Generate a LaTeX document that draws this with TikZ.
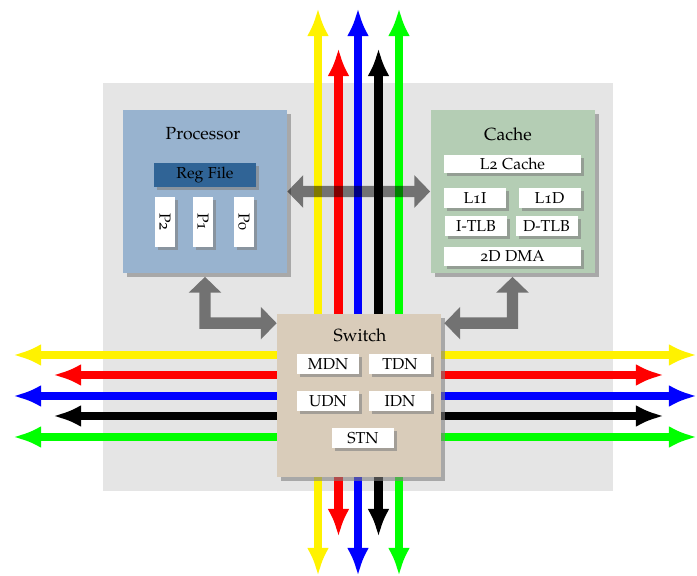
\documentclass[tikz,border=0pt]{standalone}
\usepackage[T1]{fontenc}
\usepackage[osf]{mathpazo}
\usetikzlibrary{arrows.meta, shadows}
\definecolor{procblue}{RGB}{152,179,207}
\definecolor{regblue}{RGB}{48,100,150}
\definecolor{cachegreen}{RGB}{180,205,180}
\definecolor{switchtan}{RGB}{217,204,186}
\definecolor{bggray}{RGB}{229,229,229}
\tikzset{>=latex}
\tikzset{
  tilebox/.style={fill=#1, minimum width=3.28cm, minimum height=3.26cm, inner sep=0pt,
    drop shadow={shadow xshift=0.08cm, shadow yshift=-0.08cm, opacity=0.6}},
  subbox/.style={fill=white, minimum width=1.24cm, minimum height=0.4cm, inner sep=0pt, font=\small,
    drop shadow={shadow xshift=0.06cm, shadow yshift=-0.06cm, opacity=0.6}},
  netarrow/.style={line width=4.8pt, {Latex[length=16pt,width=12.5pt]}-{Latex[length=16pt,width=12.5pt]}},
  linkarrow/.style={black, line width=6.5pt, line join=miter,
    {Triangle[length=9pt,width=18pt]}-{Triangle[length=9pt,width=18pt]}}
}
\begin{document}
\begin{tikzpicture}
\useasboundingbox (0,0) rectangle (13.94,11.52);
\fill[bggray] (2.06,1.70) rectangle (12.26,9.86);

% vertical networks
\draw[netarrow, yellow] (6.36,0) -- (6.36,11.36);
\draw[netarrow, red] (6.77,0.78) -- (6.77,10.56);
\draw[netarrow, blue] (7.16,0) -- (7.16,11.36);
\draw[netarrow, black] (7.57,0.78) -- (7.57,10.56);
\draw[netarrow, green] (7.98,0) -- (7.98,11.36);
% horizontal networks
\draw[netarrow, yellow] (0.26,4.42) -- (13.94,4.42);
\draw[netarrow, red] (1.06,4.02) -- (13.28,4.02);
\draw[netarrow, blue] (0.26,3.60) -- (13.94,3.60);
\draw[netarrow, black] (1.06,3.20) -- (13.28,3.20);
\draw[netarrow, green] (0.26,2.78) -- (13.94,2.78);

% processor
\node[tilebox=procblue] (proc) at (4.10,7.69) {};
\node (proctitle) at (4.06,8.84) {Processor};
\node[subbox, fill=regblue, minimum width=2.04cm, minimum height=0.48cm] (regfile) at (4.10,8.02) {Reg File};
\node[subbox, minimum width=0.4cm, minimum height=1cm] (ptwo) at (3.30,7.08) {\rotatebox{-90}{P2}};
\node[subbox, minimum width=0.4cm, minimum height=1cm] (pone) at (4.06,7.08) {\rotatebox{-90}{P1}};
\node[subbox, minimum width=0.4cm, minimum height=1cm] (pzero) at (4.88,7.08) {\rotatebox{-90}{P0}};

% cache
\node[tilebox=cachegreen] (cache) at (10.25,7.69) {};
\node (cachetitle) at (10.16,8.84) {Cache};
\node[subbox, minimum width=2.74cm, minimum height=0.36cm] (ltwo) at (10.25,8.24) {L2 Cache};
\node[subbox] (loneI) at (9.50,7.56) {L1I};
\node[subbox] (loneD) at (10.99,7.56) {L1D};
\node[subbox] (itlb) at (9.52,7.00) {I-TLB};
\node[subbox] (dtlb) at (10.93,7.00) {D-TLB};
\node[subbox, minimum width=2.74cm, minimum height=0.38cm] (dma) at (10.25,6.39) {2D DMA};

% switch
\node[tilebox=switchtan] (switch) at (7.18,3.60) {};
\node (switchtitle) at (7.20,4.82) {Switch};
\node[subbox] (mdn) at (6.56,4.23) {MDN};
\node[subbox] (tdn) at (8.00,4.23) {TDN};
\node[subbox] (udn) at (6.56,3.49) {UDN};
\node[subbox] (idn) at (8.00,3.49) {IDN};
\node[subbox] (stn) at (7.26,2.75) {STN};

% links
\begin{scope}[transparency group, opacity=0.5]
\draw[linkarrow] (proc.east) -- (cache.west);
\draw[linkarrow] ([yshift=-0.07cm]proc.south) |- ([yshift=-0.18cm]switch.north west);
\draw[linkarrow] ([yshift=-0.07cm]cache.south) |- ([xshift=0.06cm, yshift=-0.18cm]switch.north east);
\end{scope}
\end{tikzpicture}
\end{document}
